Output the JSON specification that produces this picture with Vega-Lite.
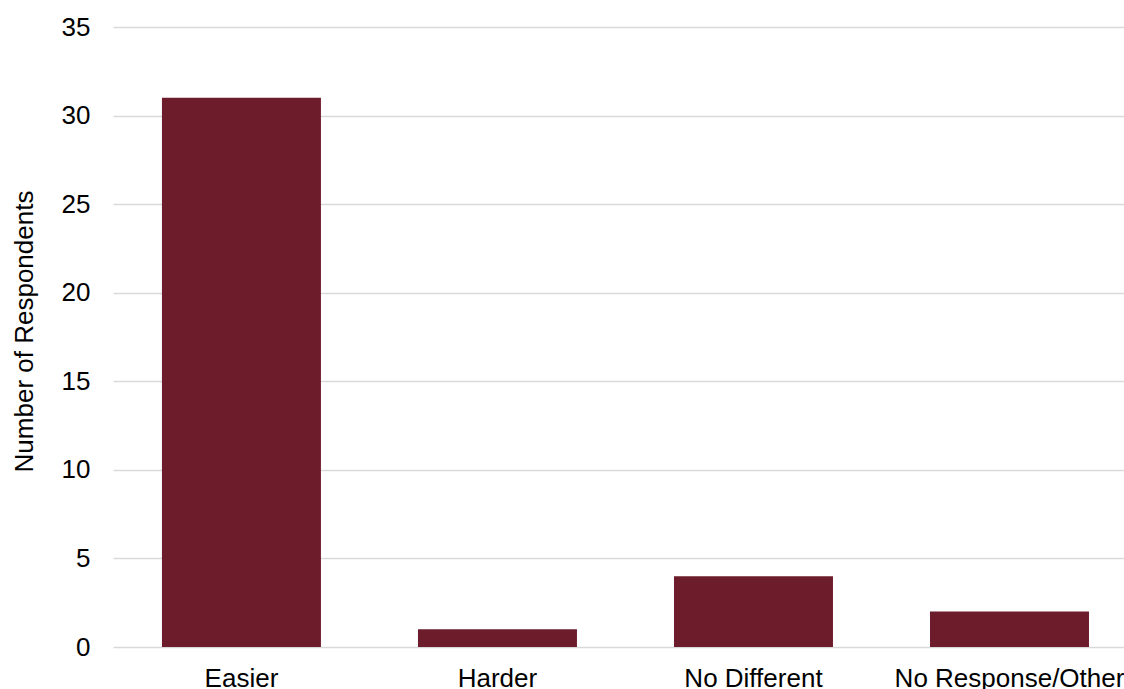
{
  "$schema": "https://vega.github.io/schema/vega-lite/v6.json",
  "autosize": "none",
  "padding": {"left": 113, "top": 27, "right": 0, "bottom": 42},
  "width": 1011,
  "height": 620,
  "background": "white",
  "config": {
    "view": {"stroke": null},
    "font": "Liberation Sans",
    "axis": {
      "labelFont": "Liberation Sans",
      "titleFont": "Liberation Sans",
      "labelColor": "#000000",
      "titleColor": "#000000",
      "labelFontSize": 26,
      "titleFontSize": 26,
      "titleFontWeight": "normal",
      "labelLimit": 0
    }
  },
  "data": {
    "values": [
      {"response": "Easier", "count": 31},
      {"response": "Harder", "count": 1},
      {"response": "No Different", "count": 4},
      {"response": "No Response/Other", "count": 2}
    ]
  },
  "mark": {"type": "bar", "color": "#6d1c2b"},
  "encoding": {
    "x": {
      "field": "response",
      "type": "nominal",
      "sort": null,
      "scale": {"paddingInner": 0.379, "paddingOuter": 0.164, "align": 0.583},
      "axis": {
        "title": null,
        "labelAngle": 0,
        "ticks": false,
        "tickSize": 0,
        "domain": false,
        "labelPadding": 18,
        "labelBaseline": "top",
        "labelLimit": 0,
        "labelOverlap": false
      }
    },
    "y": {
      "field": "count",
      "type": "quantitative",
      "scale": {"domain": [0, 35], "nice": false},
      "axis": {
        "title": "Number of Respondents",
        "values": [0, 5, 10, 15, 20, 25, 30, 35],
        "ticks": false,
        "tickSize": 0,
        "domain": false,
        "grid": true,
        "gridColor": "#d9d9d9",
        "gridWidth": 1.5,
        "labelPadding": 23,
        "titleAngle": -90,
        "titleX": -89,
        "titleY": 304,
        "titleAlign": "center",
        "titleBaseline": "middle"
      }
    }
  }
}
